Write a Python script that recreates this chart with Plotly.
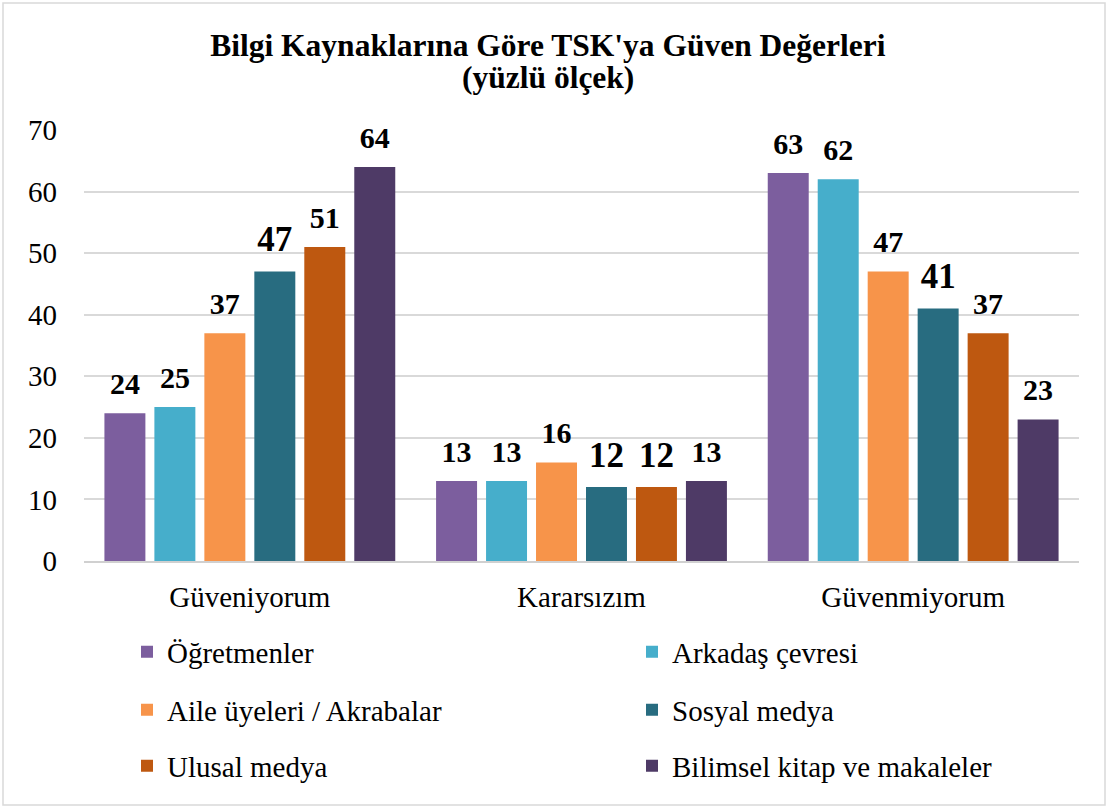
import plotly.graph_objects as go

categories = ["Güveniyorum", "Kararsızım", "Güvenmiyorum"]

series_names = [
    "Öğretmenler",
    "Arkadaş çevresi",
    "Aile üyeleri / Akrabalar",
    "Sosyal medya",
    "Ulusal medya",
    "Bilimsel kitap ve makaleler",
]

ogretmenler = [24, 13, 63]
arkadas = [25, 13, 62]
aile = [37, 16, 47]
sosyal = [47, 12, 41]
ulusal = [51, 12, 37]
bilimsel = [64, 13, 23]

y_ticks = [0, 10, 20, 30, 40, 50, 60, 70]

values = [ogretmenler, arkadas, aile, sosyal, ulusal, bilimsel]
colors = ["#7c5e9e", "#46aecb", "#f7944a", "#286c80", "#be5810", "#4e3a66"]
# some labels in the original are a bit bigger
label_sizes = [
    [30, 30, 30],
    [30, 30, 30],
    [30, 30, 30],
    [35, 35, 35],
    [30, 35, 30],
    [30, 30, 30],
]

FONT = "Liberation Serif"

W, H = 1109, 810
ml, mr, mt, mb = 84, 30, 130, 249
ph = H - mt - mb
pw = W - ml - mr


def py(pix):
    return (H - mb - pix) / ph


def px(pix):
    return (pix - ml) / pw


# legend: two columns, three rows (one plotly legend per entry)
legend_x = [127, 632, 127, 632, 127, 632]
legend_y = [652, 652, 710, 710, 766, 766]
legend_ids = ["legend"] + ["legend%d" % i for i in range(2, 7)]

fig = go.Figure()
for i, (name, vals, col, lg) in enumerate(zip(series_names, values, colors, legend_ids)):
    fig.add_trace(
        go.Bar(
            x=categories,
            y=vals,
            name=name,
            marker=dict(color=col, line=dict(width=0)),
            offsetgroup=str(i),
            showlegend=True,
            legend=lg,
        )
    )

# value labels, lifted a bit above the bars like in the original
for i, (vals, sizes) in enumerate(zip(values, label_sizes)):
    fig.add_trace(
        go.Scatter(
            x=categories,
            y=vals,
            mode="markers+text",
            marker=dict(size=17, color="rgba(0,0,0,0)"),
            text=[str(v) for v in vals],
            textposition="top center",
            textfont=dict(family=FONT, size=sizes, color="black", weight="bold"),
            offsetgroup=str(i),
            cliponaxis=False,
            showlegend=False,
            hoverinfo="skip",
        )
    )

legends = {}
for lg, lx, ly in zip(legend_ids, legend_x, legend_y):
    legends[lg] = dict(
        xref="container",
        yref="container",
        x=lx / W,
        y=(H - ly) / H,
        xanchor="left",
        yanchor="middle",
        font=dict(family=FONT, size=29, color="black"),
        bgcolor="rgba(0,0,0,0)",
    )

fig.update_layout(
    width=W,
    height=H,
    showlegend=True,
    margin=dict(l=ml, r=mr, t=mt, b=mb, autoexpand=False),
    paper_bgcolor="white",
    plot_bgcolor="white",
    font=dict(family=FONT, color="black"),
    title=dict(
        text="<b>Bilgi Kaynaklarına Göre TSK'ya Güven Değerleri</b>",
        x=0.494,
        xanchor="center",
        y=(H - 45) / H,
        yanchor="middle",
        font=dict(family=FONT, size=31.5, color="black"),
    ),
    annotations=[
        dict(
            text="<b>(yüzlü ölçek)</b>",
            xref="paper",
            yref="paper",
            x=px(548),
            y=py(78),
            xanchor="center",
            yanchor="middle",
            showarrow=False,
            font=dict(family=FONT, size=31.5, color="black"),
        )
    ],
    barmode="group",
    bargap=0.096,
    bargroupgap=0.18,
    scattermode="group",
    scattergap=0.096,
    xaxis=dict(
        showgrid=False,
        showline=True,
        linecolor="#d0d0d0",
        linewidth=1.5,
        ticks="",
        tickangle=0,
        ticklabelstandoff=9,
        tickfont=dict(family=FONT, size=29, color="black"),
    ),
    yaxis=dict(
        range=[0, 70],
        tickvals=y_ticks,
        showgrid=True,
        gridcolor="#d9d9d9",
        gridwidth=1.5,
        zeroline=False,
        showline=False,
        ticks="",
        ticklabelstandoff=26,
        tickfont=dict(family=FONT, size=29, color="black"),
    ),
    shapes=[
        dict(
            type="rect",
            xref="paper",
            yref="paper",
            x0=px(3),
            x1=px(1105),
            y0=py(805),
            y1=py(3),
            line=dict(color="#d9d9d9", width=1.5),
            fillcolor="rgba(0,0,0,0)",
            layer="below",
        )
    ],
    **legends,
)

fig.write_html(
    "out.html",
    config={"displayModeBar": False},
    post_script="document.body.style.margin='0px';",
)
